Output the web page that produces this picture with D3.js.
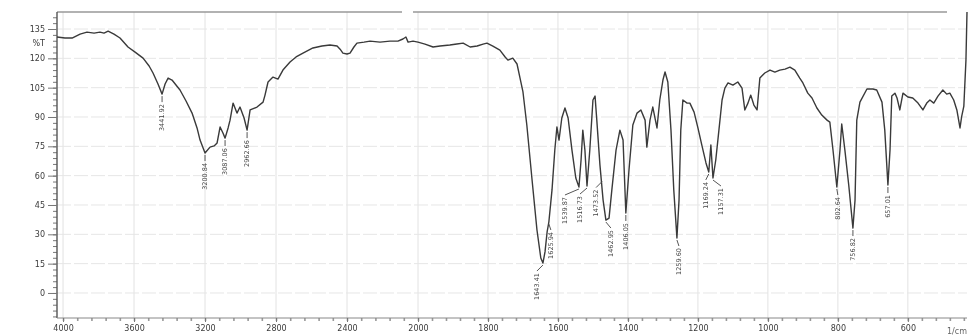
<!DOCTYPE html>
<html>
<head>
<meta charset="utf-8">
<script src="https://cdn.jsdelivr.net/npm/d3@7"></script>
<style>
  html, body { margin: 0; padding: 0; background: #fff; }
  #canvas svg { display: block; filter: blur(0.45px); }
  .axis text { font-family: "DejaVu Sans", sans-serif; font-size: 8px; fill: #3a3a3a; }
  .axis path, .axis line { stroke: #777; }
</style>
</head>
<body>
<div id="canvas"></div>
<script>
// IR spectrum, %T vs wavenumber (1/cm)
const wavenumber = [4034, 3989, 3949, 3904, 3865, 3825, 3792, 3769, 3746, 3713, 3679, 3634, 3594, 3549, 3515, 3493, 3465, 3442, 3425, 3408,
  3386, 3341, 3307, 3273, 3245, 3228, 3200, 3172, 3149, 3132, 3115, 3099, 3087, 3070, 3059, 3042, 3020, 3003, 2980, 2963,
  2946, 2907, 2873, 2862, 2845, 2817, 2789, 2761, 2721, 2687, 2648, 2592, 2541, 2496, 2456, 2439, 2423, 2400, 2383, 2361,
  2344, 2304, 2270, 2214, 2158, 2113, 2085, 2068, 2056, 2028, 2000, 1980, 1957, 1937, 1909, 1889, 1871, 1851, 1831, 1814,
  1803, 1786, 1766, 1751, 1743, 1729, 1717, 1709, 1700, 1689, 1674, 1660, 1649, 1643, 1637, 1631, 1626, 1617, 1609, 1603,
  1597, 1589, 1580, 1571, 1560, 1549, 1540, 1534, 1529, 1523, 1517, 1509, 1500, 1494, 1489, 1480, 1471, 1463, 1454, 1446,
  1434, 1423, 1414, 1406, 1397, 1386, 1374, 1363, 1351, 1346, 1337, 1329, 1317, 1309, 1300, 1294, 1286, 1277, 1269, 1260,
  1254, 1249, 1243, 1231, 1223, 1211, 1200, 1189, 1177, 1169, 1163, 1157, 1149, 1140, 1131, 1123, 1114, 1100, 1086, 1074,
  1066, 1057, 1049, 1040, 1031, 1023, 1009, 994, 980, 966, 951, 937, 923, 909, 900, 886, 874, 860, 846, 831,
  823, 814, 803, 794, 789, 780, 769, 757, 751, 746, 737, 717, 700, 689, 674, 666, 657, 651, 646, 637,
  631, 623, 614, 600, 586, 571, 557, 546, 537, 526, 514, 500, 489, 480, 469, 460, 451, 446, 440, 434, 431];

const transmittance = [130.9, 130.4, 130.4, 132.4, 133.4, 132.9, 133.4, 132.9, 133.9, 132.4, 130.4, 125.8, 123.2, 120.1, 116.1, 112.5, 106.9, 101.7, 106.9, 109.9,
  108.9, 103.8, 98.2, 92.0, 84.4, 78.2, 71.6, 74.6, 75.2, 76.7, 84.9, 81.8, 79.2, 84.4, 88.4, 97.1, 92.0, 95.1, 89.5, 83.3,
  93.6, 95.1, 97.6, 101.2, 107.9, 110.4, 109.4, 114.0, 118.1, 120.7, 122.7, 125.3, 126.3, 126.8, 126.3, 124.7, 122.7, 122.2, 122.7, 125.8,
  127.8, 128.3, 128.8, 128.3, 128.8, 128.8, 129.9, 130.9, 128.3, 128.8, 128.3, 127.3, 125.8, 126.3, 126.8, 127.3, 127.8, 125.8, 126.3, 127.3,
  127.8, 126.3, 124.2, 120.7, 119.1, 120.1, 117.1, 110.4, 102.8, 85.9, 57.8, 32.2, 17.9, 15.3, 21.0, 31.2, 36.3, 52.7, 73.1, 84.9,
  78.2, 89.5, 94.6, 89.5, 73.1, 58.8, 54.2, 68.0, 83.3, 73.1, 54.7, 73.1, 98.7, 100.7, 88.4, 65.4, 47.5, 37.3, 38.3, 52.7,
  73.1, 83.3, 78.2, 40.9, 62.9, 85.9, 92.0, 93.6, 88.4, 74.6, 88.4, 95.1, 84.4, 98.7, 108.9, 113.0, 107.9, 83.3, 52.7, 28.1,
  47.5, 83.3, 98.7, 97.1, 97.1, 92.5, 84.4, 75.7, 66.5, 61.9, 75.7, 58.8, 68.0, 83.3, 98.7, 104.8, 107.4, 106.3, 107.9, 104.8,
  93.6, 97.1, 101.2, 96.1, 93.6, 109.9, 112.5, 114.0, 113.0, 114.0, 114.5, 115.5, 114.0, 109.9, 107.4, 102.2, 99.7, 94.6, 91.0, 88.4,
  87.4, 73.1, 54.2, 73.1, 86.4, 73.1, 55.2, 33.2, 47.5, 88.4, 97.6, 104.3, 104.3, 103.8, 97.6, 83.3, 55.2, 73.1, 100.7, 102.2,
  99.7, 93.6, 102.2, 100.2, 99.7, 97.1, 93.6, 97.1, 98.7, 97.1, 100.7, 103.8, 101.7, 102.2, 98.7, 93.6, 84.4, 90.5, 95.6, 119.1, 143.7];

// labelled peaks
const peakWn = [3442, 3200, 3087, 2963, 1643, 1626, 1540, 1517, 1474, 1463, 1406, 1260, 1169, 1157, 803, 757, 657];
const peakT = [101.7, 71.6, 79.2, 83.3, 15.3, 36.3, 54.2, 54.7, 58.0, 37.3, 40.9, 28.1, 61.9, 58.8, 54.2, 33.2, 55.2];
const peakText = ["3441.92", "3200.84", "3087.06", "2962.66", "1643.41", "1625.94", "1539.87", "1516.73", "1473.52",
  "1462.95", "1406.05", "1259.60", "1169.24", "1157.31", "802.64", "756.82", "657.01"];
// label nudges (px) so the crowded ones do not overlap
const peakNudge = [0, 0, 0, 0, -6, 2, -14, -7, -6, 5, 0, 2, -3, 8, 1, 0, 0];

const xMajor = [4000, 3600, 3200, 2800, 2400, 2000, 1800, 1600, 1400, 1200, 1000, 800, 600];
const yMajor = [0, 15, 30, 45, 60, 75, 90, 105, 120, 135];

const W = 969, H = 336;
const plotLeft = 57, plotRight = 967, plotTop = 12, plotBottom = 318;

const svg = d3.select("#canvas").append("svg")
    .attr("width", W)
    .attr("height", H);

// Shimadzu style: scale changes at 2000 1/cm
const x = d3.scaleLinear()
    .domain([4034, 2000, 431])
    .range([plotLeft, 418, plotRight]);
const y = d3.scaleLinear()
    .domain([-12.8, 143.7])
    .range([plotBottom, plotTop]);

// grid
svg.append("g").selectAll("line")
    .data(xMajor)
    .enter().append("line")
    .attr("x1", d => x(d)).attr("x2", d => x(d))
    .attr("y1", plotTop).attr("y2", plotBottom)
    .style("stroke", "#e2e2e2");
svg.append("g").selectAll("line")
    .data(yMajor)
    .enter().append("line")
    .attr("x1", plotLeft).attr("x2", plotRight)
    .attr("y1", d => y(d)).attr("y2", d => y(d))
    .style("stroke", "#e6e6e6")
    .style("stroke-dasharray", "14,3");

// top frame (scan has a gap in it)
svg.append("line")
    .attr("x1", plotLeft).attr("x2", 402).attr("y1", plotTop).attr("y2", plotTop)
    .style("stroke", "#999").style("stroke-width", 1.3);
svg.append("line")
    .attr("x1", 413).attr("x2", plotRight - 20).attr("y1", plotTop).attr("y2", plotTop)
    .style("stroke", "#999").style("stroke-width", 1.3);

// minor ticks
const yMinor = d3.range(-12, 144, 3);
svg.append("g")
    .attr("class", "axis")
    .attr("transform", "translate(" + plotLeft + ",0)")
    .call(d3.axisLeft(y).tickValues(yMinor).tickSize(4).tickFormat(""))
    .call(g => g.select(".domain").remove());

const xMinor = d3.range(4000, 2000, -80).concat(d3.range(2000, 439, -40));
svg.append("g")
    .attr("class", "axis")
    .attr("transform", "translate(0," + plotBottom + ")")
    .call(d3.axisBottom(x).tickValues(xMinor).tickSize(3).tickFormat(""))
    .call(g => g.select(".domain").remove())
    .call(g => g.selectAll("line").style("stroke-width", 1.6).style("stroke", "#999"));

// major axes
svg.append("g")
    .attr("class", "axis")
    .attr("transform", "translate(" + plotLeft + ",0)")
    .call(d3.axisLeft(y).tickValues(yMajor).tickSize(9).tickPadding(3).tickSizeOuter(0))
    .call(g => g.select(".domain").attr("d", "M0," + plotTop + "V" + plotBottom).style("stroke", "#555").style("stroke-width", 1.4));

svg.append("text")
    .attr("x", plotLeft - 12)
    .attr("y", y(127.8))
    .attr("dy", "0.32em")
    .attr("text-anchor", "end")
    .style("font-family", "DejaVu Sans, sans-serif")
    .style("font-size", "8px")
    .style("fill", "#3a3a3a")
    .text("%T");

svg.append("g")
    .attr("class", "axis")
    .attr("transform", "translate(0," + plotBottom + ")")
    .call(d3.axisBottom(x).tickValues(xMajor).tickSize(4).tickPadding(3).tickSizeOuter(0).tickFormat(d3.format("d")))
    .call(g => g.select(".domain").attr("d", "M" + plotLeft + ",0H" + plotRight).style("stroke", "#888"));

svg.append("text")
    .attr("x", 957)
    .attr("y", 334)
    .attr("text-anchor", "middle")
    .style("font-family", "DejaVu Sans, sans-serif")
    .style("font-size", "8px")
    .style("fill", "#666")
    .text("1/cm");

// spectrum
const spectrum = wavenumber.map((w, i) => [w, transmittance[i]]);
svg.append("path")
    .datum(spectrum)
    .attr("d", d3.line().x(d => x(d[0])).y(d => y(d[1])))
    .style("fill", "none")
    .style("stroke", "#3a3a3a")
    .style("stroke-width", 1.4)
    .style("stroke-linejoin", "round");

// peak labels
const peaks = svg.append("g").selectAll("g")
    .data(peakWn.map((w, i) => ({w: w, t: peakT[i], text: peakText[i], nudge: peakNudge[i]})))
    .enter().append("g");

peaks.append("path")
    .attr("d", d => {
        const px = x(d.w), py = y(d.t);
        return "M" + px + "," + (py + 2) + "L" + (px + d.nudge) + "," + (py + 8);
    })
    .style("stroke", "#555")
    .style("fill", "none");

peaks.append("text")
    .attr("transform", d => "translate(" + (x(d.w) + d.nudge) + "," + (y(d.t) + 10) + ") rotate(-90)")
    .attr("text-anchor", "end")
    .attr("dy", "0.35em")
    .style("font-family", "DejaVu Sans, sans-serif")
    .style("font-size", "6.5px")
    .style("fill", "#444")
    .text(d => d.text);
</script>
</body>
</html>
